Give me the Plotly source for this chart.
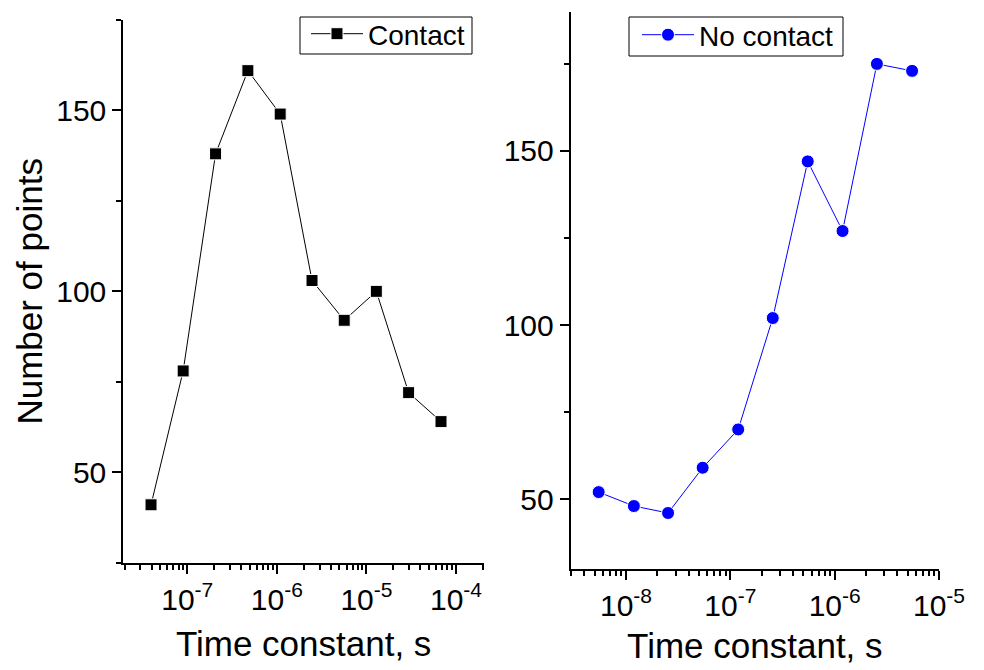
import plotly.graph_objects as go

# ---- data ----
contact_tau = [3.94e-8, 9.0e-8, 2.07e-7, 4.75e-7, 1.09e-6, 2.47e-6, 5.65e-6, 1.29e-5, 2.96e-5, 6.8e-5]
contact_counts = [41, 78, 138, 161, 149, 103, 92, 100, 72, 64]

nocontact_tau = [5.47e-9, 1.19e-8, 2.53e-8, 5.43e-8, 1.19e-7, 2.55e-7, 5.52e-7, 1.19e-6, 2.54e-6, 5.52e-6]
nocontact_counts = [52, 48, 46, 59, 70, 102, 147, 127, 175, 173]

left_xticks = [1e-7, 1e-6, 1e-5, 1e-4]
left_xticktext = ["10<sup>-7</sup>", "10<sup>-6</sup>", "10<sup>-5</sup>", "10<sup>-4</sup>"]
right_xticks = [1e-8, 1e-7, 1e-6, 1e-5]
right_xticktext = ["10<sup>-8</sup>", "10<sup>-7</sup>", "10<sup>-6</sup>", "10<sup>-5</sup>"]

x_title = "Time constant, s"
y_title = "Number of points"

FONT = "Liberation Sans, Arial, sans-serif"
W, H = 984, 670


def minor_logs(e0, e1):
    return [m * 10.0 ** e for e in range(e0, e1) for m in range(2, 10)]


def px_x(p):
    return p / W


def px_y(p):
    return 1 - p / H


fig = go.Figure()
fig.add_trace(go.Scatter(
    x=contact_tau, y=contact_counts, mode="lines+markers", name="Contact",
    line=dict(color="black", width=1),
    marker=dict(symbol="square", size=12, color="black", line=dict(color="white", width=1)),
    xaxis="x", yaxis="y", legend="legend",
))
fig.add_trace(go.Scatter(
    x=nocontact_tau, y=nocontact_counts, mode="lines+markers", name="No contact",
    line=dict(color="#0000ff", width=1),
    marker=dict(symbol="circle", size=13, color="#0000ff", line=dict(color="white", width=1)),
    xaxis="x2", yaxis="y2", legend="legend2",
))

common_axis = dict(
    showline=True, linecolor="black", linewidth=2, mirror=False,
    showgrid=False, zeroline=False, automargin=False,
    ticks="outside", ticklen=9, tickwidth=2, tickcolor="black",
    tickfont=dict(family=FONT, size=30, color="black"),
)

legend_common = dict(
    xanchor="left", yanchor="top",
    borderwidth=0, bgcolor="rgba(0,0,0,0)",
    font=dict(family=FONT, size=28, color="black"),
    itemwidth=52, tracegroupgap=0,
)

fig.update_layout(
    template="none",
    width=W, height=H, autosize=False,
    margin=dict(l=0, r=0, t=0, b=0, pad=0),
    paper_bgcolor="white", plot_bgcolor="white",
    font=dict(family=FONT, color="black"),
    xaxis=dict(
        **common_axis, type="log", domain=[px_x(123.3), px_x(484)],
        range=[-7.714, -3.6875], anchor="y",
        tickmode="array", tickvals=left_xticks, ticktext=left_xticktext,
        minor=dict(ticks="outside", ticklen=5, tickwidth=1.5, tickcolor="black",
                   tickmode="array", tickvals=minor_logs(-8, -3)),
        title=dict(text=x_title, font=dict(family=FONT, size=35), standoff=17),
    ),
    yaxis=dict(
        **common_axis, domain=[px_y(562.7), px_y(20)],
        range=[25, 175], anchor="x",
        tickmode="linear", tick0=0, dtick=50,
        minor=dict(ticks="outside", ticklen=5, tickwidth=1.5, tickcolor="black", dtick=25, tick0=0),
        title=dict(text=y_title, font=dict(family=FONT, size=35), standoff=3),
    ),
    xaxis2=dict(
        **common_axis, type="log", domain=[px_x(570.7), px_x(939)],
        range=[-8.53, -5.0], anchor="y2",
        tickmode="array", tickvals=right_xticks, ticktext=right_xticktext,
        minor=dict(ticks="outside", ticklen=5, tickwidth=1.5, tickcolor="black",
                   tickmode="array", tickvals=minor_logs(-9, -5)),
        title=dict(text=x_title, font=dict(family=FONT, size=35), standoff=13),
    ),
    yaxis2=dict(
        **common_axis, domain=[px_y(568.7), px_y(11.7)],
        range=[30, 190], anchor="x2",
        tickmode="linear", tick0=0, dtick=50,
        minor=dict(ticks="outside", ticklen=5, tickwidth=1.5, tickcolor="black", dtick=25, tick0=0),
    ),
    legend=dict(**legend_common, x=px_x(306), y=px_y(9)),
    legend2=dict(**legend_common, x=px_x(637), y=px_y(10)),
    shapes=[
        dict(type="rect", xref="paper", yref="paper",
             x0=px_x(300), x1=px_x(472), y0=px_y(54), y1=px_y(17),
             line=dict(color="black", width=1), fillcolor="white", layer="above"),
        dict(type="rect", xref="paper", yref="paper",
             x0=px_x(629), x1=px_x(843), y0=px_y(56), y1=px_y(17),
             line=dict(color="black", width=1), fillcolor="white", layer="above"),
    ],
    showlegend=True,
)

fig.write_html(
    "out.html",
    config={"displayModeBar": False},
    post_script="document.body.style.margin='0';document.body.style.padding='0';"
                "document.documentElement.style.overflow='hidden';",
)
